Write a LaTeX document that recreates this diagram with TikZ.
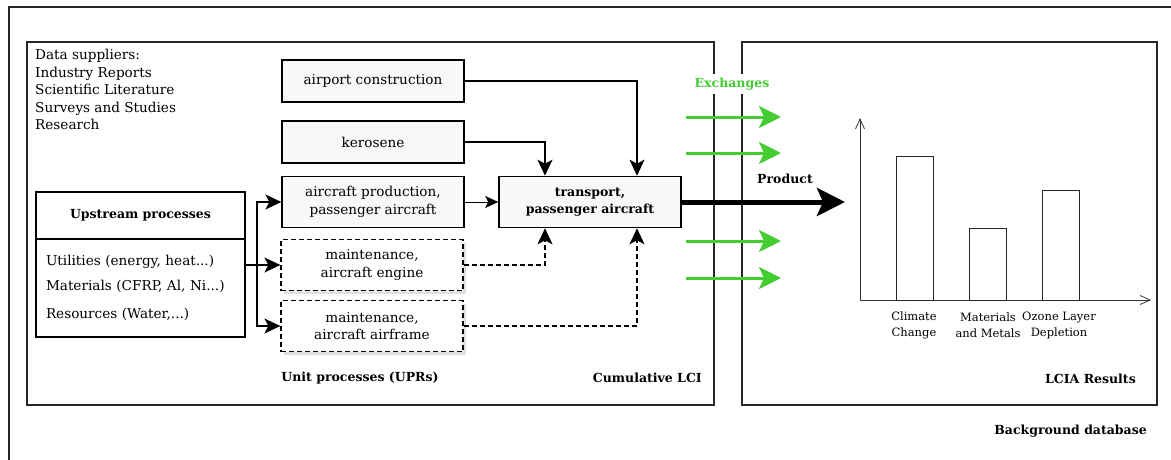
\documentclass[tikz,border=0pt]{standalone}
\usepackage{fontspec}
\setmainfont{DejaVu Serif}
\usetikzlibrary{positioning,arrows.meta,shadows}
\definecolor{exgreen}{RGB}{68,204,51}
\definecolor{boxgray}{RGB}{248,248,248}
\newcommand\mainfs{\fontsize{13.6}{17.5}\selectfont}
\newcommand\titlefs{\fontsize{12.5}{17.5}\selectfont\bfseries}
\newcommand\smallfs{\fontsize{11.5}{16}\selectfont}
\tikzstyle{frame}=[line width=1.6pt,draw=black!85]
\tikzstyle{title}=[font=\titlefs,inner sep=1pt]
\tikzstyle{flowlbl}=[title,fill=white,inner xsep=2pt,inner ysep=4pt]
\tikzstyle{unit}=[draw,line width=1.2pt,fill=boxgray,minimum width=182pt,minimum height=42pt,align=center,inner sep=2pt]
\tikzstyle{maint}=[unit,fill=white,minimum height=51pt,dash pattern=on 5pt off 3pt,drop shadow={opacity=0.25,shadow xshift=3pt,shadow yshift=-3pt}]
\tikzstyle{upbox}=[draw,line width=1.4pt,minimum width=209pt,outer sep=0pt,inner xsep=10pt]
\tikzstyle{conn}=[line width=1.3pt,-{Stealth[length=16pt,width=15pt,inset=4pt]}]
\tikzstyle{dconn}=[conn,dash pattern=on 5pt off 3pt]
\tikzstyle{exarrow}=[line width=3pt,draw=exgreen,-{Stealth[length=22pt,width=22pt,inset=5pt]}]
\tikzstyle{prodarrow}=[line width=5pt,-{Stealth[length=28pt,width=28pt,inset=6pt]}]
\tikzstyle{axis}=[line width=0.8pt,draw=black!80,-{Straight Barb[length=10pt,width=9pt]}]
\tikzstyle{bar}=[line width=1pt,draw=black!85]
\tikzstyle{chartlbl}=[font=\smallfs,align=center,inner sep=0pt]

\begin{document}
\begin{tikzpicture}[x=1pt,y=-1pt,font=\mainfs]
\useasboundingbox (0,0) rectangle (1171,460);
% frames
\draw[frame] (9,7) rectangle (1190,480);
\draw[frame] (27,42) rectangle (714,405);
\draw[frame] (742,42) rectangle (1157,405);
\node[title,anchor=east] (bgdb) at (1148,431) {Background database};
\node[title,anchor=east] (cumlci) at (703,378) {Cumulative LCI};
\node[title,anchor=east] (lciares) at (1137,379) {LCIA Results};
\node[title] (upr) at (360,378) {Unit processes (UPRs)};
\node[anchor=north west,align=left,inner sep=0pt] (suppliers) at (35,49)
  {Data suppliers:\\Industry Reports\\Scientific Literature\\Surveys and Studies\\Research};

% upstream processes
\node[upbox,minimum height=47pt,font=\titlefs] (upstream) at (140.5,215.5) {Upstream processes};
\node[upbox,minimum height=98pt,below=0pt of upstream,align=left,text width=189pt] (upitems)
  {Utilities (energy, heat...)\\[7pt]Materials (CFRP, Al, Ni...)\\[11pt]Resources (Water,...)};

% unit processes
\node[unit] (airport) at (373,81) {airport construction};
\node[unit] (kerosene) at (373,142) {kerosene};
\node[unit,minimum height=51pt] (production) at (373,202) {aircraft production,\\passenger aircraft};
\node[maint] (engine) at (372,265) {maintenance,\\aircraft engine};
\node[maint] (airframe) at (372,326) {maintenance,\\aircraft airframe};
\node[unit,line width=1.6pt,minimum height=51pt,font=\titlefs] (transport) at (590,202) {transport,\\passenger aircraft};

% connectors
\coordinate (fork) at (257,0);
\coordinate (tinl) at (545,0);
\coordinate (tinr) at (637,0);
\draw[conn] (upitems.east |- engine.west) -- (engine.west);
\draw[conn] (fork |- engine.west) |- (production.west);
\draw[conn] (fork |- engine.west) |- (airframe.west);
\draw[line width=0.7pt,-{Stealth[length=13pt,width=12pt,inset=3pt]}] (production) -- (transport);
\draw[conn] (kerosene.east) -| (tinl |- transport.north);
\draw[conn] (airport.east) -| (tinr |- transport.north);
\draw[dconn] (engine.east) -| (tinl |- transport.south);
\draw[dconn] (airframe.east) -| (tinr |- transport.south);

% exchanges and product
\node[flowlbl,text=exgreen] (exchanges) at (732,84) {Exchanges};
\foreach \y in {117,153,241,278}
  \draw[exarrow] (686,\y) coordinate (exs\y) -- (781,\y) coordinate (exe\y);
\node[flowlbl] (product) at (785,179) {Product};
\coordinate (lciain) at (845,202);
\draw[prodarrow] (transport.east) -- (lciain |- transport.east);

% LCIA chart
\coordinate (origin) at (860,300);
\draw[axis] (origin) -- (860,118);
\draw[axis] (origin) -- (1151,300);
\foreach \x/\top in {896/156,969/228,1042/190}
  \draw[bar] (\x,300) rectangle (\x+37,\top);
\node[chartlbl] (climate) at (914,325) {Climate\\Change};
\node[chartlbl] (metals) at (988,325) {Materials\\and Metals};
\node[chartlbl] (ozone) at (1059,325) {Ozone Layer\\Depletion};
\end{tikzpicture}
\end{document}
